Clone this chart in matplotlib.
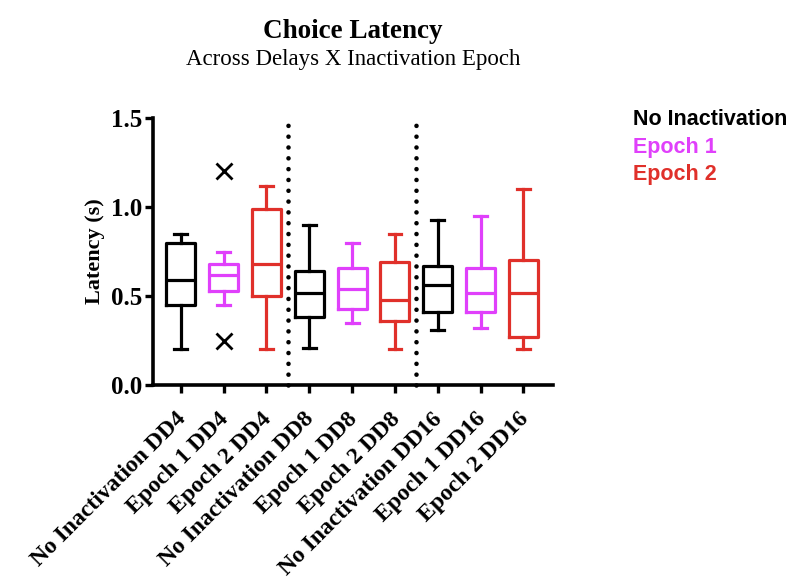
import matplotlib
matplotlib.use("Agg")
import matplotlib.pyplot as plt

# groups, in plotting order
labels = ["No Inactivation DD4", "Epoch 1 DD4", "Epoch 2 DD4",
          "No Inactivation DD8", "Epoch 1 DD8", "Epoch 2 DD8",
          "No Inactivation DD16", "Epoch 1 DD16", "Epoch 2 DD16"]
colors = ["black", "#e040fb", "#e0302a"] * 3

# box summary values (s)
whislo = [0.20, 0.45, 0.20, 0.21, 0.35, 0.20, 0.31, 0.32, 0.20]
q1     = [0.45, 0.53, 0.50, 0.38, 0.43, 0.36, 0.41, 0.41, 0.27]
med    = [0.59, 0.62, 0.68, 0.52, 0.54, 0.48, 0.56, 0.52, 0.52]
q3     = [0.80, 0.68, 0.99, 0.64, 0.66, 0.69, 0.67, 0.66, 0.70]
whishi = [0.85, 0.75, 1.12, 0.90, 0.80, 0.85, 0.93, 0.95, 1.10]
fliers = [[], [1.20, 0.25], [], [], [], [], [], [], []]

legend_labels = ["No Inactivation", "Epoch 1", "Epoch 2"]

serif = "Liberation Serif"
sans = "Liberation Sans"

fig = plt.figure(figsize=(7.95, 5.79), dpi=100)
ax = fig.add_axes([0.1925, 0.335, 0.503, 0.461])

stats = []
for i in range(len(labels)):
    stats.append(dict(whislo=whislo[i], q1=q1[i], med=med[i], q3=q3[i],
                      whishi=whishi[i], fliers=fliers[i]))

pos = list(range(1, len(labels) + 1))
for i, s in enumerate(stats):
    c = colors[i]
    ax.bxp([s], positions=[pos[i]], widths=0.68, showfliers=True,
           boxprops=dict(color=c, linewidth=2.3),
           medianprops=dict(color=c, linewidth=2.3),
           whiskerprops=dict(color=c, linewidth=2.3),
           capprops=dict(color=c, linewidth=2.3),
           capwidths=0.3,
           flierprops=dict(marker="x", markersize=11, markeredgecolor="black",
                           markeredgewidth=2.0))

# dotted separators between delay groups
for xs in [3.5, 6.5]:
    ax.plot([xs, xs], [0, 1.5], color="black", linewidth=3.3,
            linestyle=(0, (0.01, 2.35)), dash_capstyle="round", clip_on=False)

ax.set_xlim(0.35, 9.69)
ax.set_ylim(0, 1.5)
ax.set_yticks([0, 0.5, 1.0, 1.5])
ax.set_yticklabels(["0.0", "0.5", "1.0", "1.5"], fontfamily=serif,
                   fontweight="bold", fontsize=18)
ax.set_xticks(pos)
ax.set_xticklabels(labels, rotation=45, ha="right", va="center_baseline",
                   rotation_mode="anchor",
                   fontfamily=serif, fontweight="bold", fontsize=17)
ax.tick_params(axis="both", width=2.4, length=6, direction="out")
ax.tick_params(axis="x", pad=15)
ax.tick_params(axis="y", pad=2)
for side in ["top", "right"]:
    ax.spines[side].set_visible(False)
for side in ["left", "bottom"]:
    ax.spines[side].set_linewidth(2.6)
ax.set_ylabel("Latency (s)", fontfamily=serif, fontweight="bold", fontsize=16,
              labelpad=4)

fig.text(0.444, 0.945, "Choice Latency", ha="center", va="center",
         fontfamily=serif, fontweight="bold", fontsize=19.5)
fig.text(0.444, 0.897, "Across Delays X Inactivation Epoch", ha="center",
         va="center", fontfamily=serif, fontsize=16.5)

for k, t in enumerate(legend_labels):
    fig.text(0.796, 0.793 - k * 0.0475, t, ha="left", va="center",
             fontfamily=sans, fontweight="bold", fontsize=15.5, color=colors[k])

fig.savefig("out.png", dpi=100)
